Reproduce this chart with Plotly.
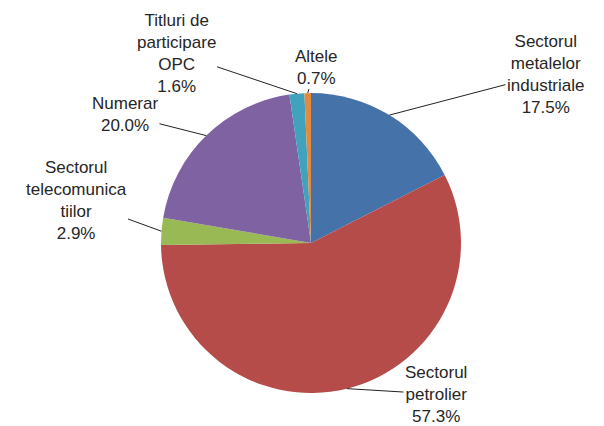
import math
import plotly.graph_objects as go

# ---- data ----
categories = [
    "Sectorul metalelor industriale",
    "Sectorul petrolier",
    "Sectorul telecomunicatiilor",
    "Numerar",
    "Titluri de participare OPC",
    "Altele",
]
display_names = [
    "Sectorul<br>metalelor<br>industriale",
    "Sectorul<br>petrolier",
    "Sectorul<br>telecomunica<br>tiilor",
    "Numerar",
    "Titluri de<br>participare<br>OPC",
    "Altele",
]
values = [17.5, 57.3, 2.9, 20.0, 1.6, 0.7]

# ---- styles / layout ----
colors = ["#4672AA", "#B54C49", "#98B954", "#7E62A1", "#41A2BE", "#E48A3F"]
W, H = 604, 426
OFF = 8  # page body margin offset compensation
CX, CY, R = 311 - OFF, 243 - OFF, 150  # pie centre and radius in pixels
L, T = CX - R, CY - R
PW = PH = 2 * R
# label text centres (pixels, in page coordinates)
label_pos = [(546, 74), (436, 394), (76, 200), (125, 115), (176, 53), (316, 67)]

fig = go.Figure(
    go.Pie(
        labels=categories,
        values=values,
        sort=False,
        direction="clockwise",
        rotation=0,
        marker=dict(colors=colors, line=dict(width=0)),
        textinfo="none",
        hoverinfo="label+percent",
        showlegend=False,
    )
)

total = sum(values)
annotations = []
cum = 0.0
for name, v, (tx, ty) in zip(display_names, values, label_pos):
    tx, ty = tx - OFF, ty - OFF
    mid = (cum + v / 2) / total * 2 * math.pi
    cum += v
    px = CX + R * math.sin(mid)
    py = CY - R * math.cos(mid)
    annotations.append(
        dict(
            x=(px - L) / PW,
            y=(T + PH - py) / PH,
            xref="paper",
            yref="paper",
            ax=tx - px,
            ay=ty - py,
            text=f"{name}<br>{v:.1f}%",
            showarrow=True,
            arrowhead=0,
            arrowwidth=1,
            arrowcolor="#222222",
            standoff=0,
            startstandoff=0,
            font=dict(family="Liberation Sans, Arial, sans-serif", size=17, color="#262626"),
            align="center",
        )
    )

fig.update_layout(
    width=W,
    height=H,
    margin=dict(l=L, r=W - (L + PW), t=T, b=H - (T + PH), pad=0),
    paper_bgcolor="white",
    plot_bgcolor="white",
    annotations=annotations,
)

fig.write_html("out.html")
